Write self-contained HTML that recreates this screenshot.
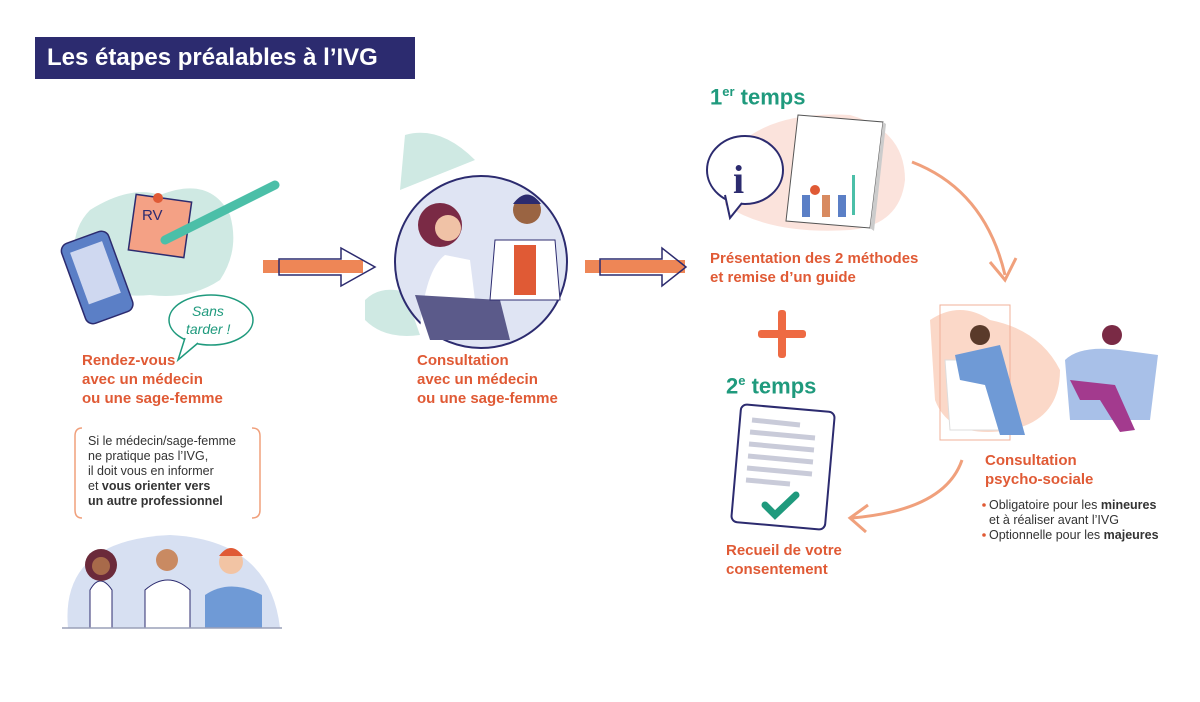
<!DOCTYPE html>
<html><head><meta charset="utf-8"><style>
body{margin:0;width:1200px;height:702px;background:#fff;position:relative;overflow:hidden;font-family:"Liberation Sans",sans-serif}
.a{position:absolute}
.or{color:#e05a35;font-weight:bold;font-size:15px;line-height:19px}
.te{color:#1f9a7d;font-weight:bold;font-size:22px}
.sm{font-size:12.5px;line-height:15px;color:#333}
</style></head><body>
<div class="a" style="left:35px;top:37px;width:380px;height:42px;background:#2c2b6f;color:#fff;font-weight:bold;font-size:24px;line-height:42px;text-indent:12px">Les étapes préalables à l’IVG</div>

<svg class="a" style="left:0;top:0" width="1200" height="702">
<!-- left illus -->
<path d="M90 210 Q130 185 160 195 Q210 175 230 215 Q240 250 220 280 Q190 300 150 295 Q95 300 75 265 Q70 230 90 210Z" fill="#cfe9e3"/>
<rect x="132" y="198" width="56" height="56" fill="#f4a185" stroke="#2c2b6f" stroke-width="1.5" transform="rotate(8 160 226)"/>
<circle cx="158" cy="198" r="5" fill="#e05a35"/>
<text x="142" y="220" font-size="15" fill="#2c2b6f" font-family="Liberation Sans">RV</text>
<path d="M165 240 L275 185" stroke="#4bbfa8" stroke-width="9" stroke-linecap="round"/>
<rect x="72" y="235" width="50" height="85" rx="8" fill="#5b7fc6" stroke="#2c2b6f" stroke-width="1.5" transform="rotate(-20 97 277)"/>
<rect x="80" y="245" width="34" height="55" fill="#cfd8f0" transform="rotate(-20 97 277)"/>
<ellipse cx="211" cy="320" rx="42" ry="25" fill="#fff" stroke="#1f9a7d" stroke-width="1.5"/>
<path d="M185 338 L178 360 L198 343" fill="#fff" stroke="#1f9a7d" stroke-width="1.5"/>
<text x="192" y="316" font-size="14" font-style="italic" fill="#1f9a7d" font-family="Liberation Sans">Sans</text>
<text x="186" y="334" font-size="14" font-style="italic" fill="#1f9a7d" font-family="Liberation Sans">tarder !</text>
<!-- bracket box -->
<path d="M82 428 Q75 428 75 436 L75 510 Q75 518 82 518" fill="none" stroke="#f0a07c" stroke-width="1.5"/>
<path d="M252 428 Q260 428 260 436 L260 510 Q260 518 252 518" fill="none" stroke="#f0a07c" stroke-width="1.5"/>
<!-- team -->
<path d="M68 628 Q60 540 170 535 Q270 540 280 628Z" fill="#d7e0f2"/>
<path d="M90 628 L90 590 Q100 572 112 590 L112 628Z" fill="#fff" stroke="#2c2b6f"/>
<circle cx="101" cy="565" r="16" fill="#6b2a3a"/><circle cx="101" cy="566" r="9" fill="#a86a4a"/>
<path d="M145 628 L145 590 Q168 570 190 590 L190 628Z" fill="#fff" stroke="#2c2b6f"/>
<circle cx="167" cy="560" r="11" fill="#c98a62"/>
<path d="M205 628 L205 595 Q230 578 262 595 L262 628Z" fill="#6f9ad6"/>
<circle cx="231" cy="562" r="12" fill="#f2c4a4"/><path d="M219 556 Q231 540 243 556Z" fill="#e05a35"/>
<line x1="62" y1="628" x2="282" y2="628" stroke="#9aa0b8" stroke-width="1.5"/>
<!-- arrows -->
<rect x="263" y="260" width="100" height="13" fill="#ee8656"/>
<path d="M279 259 L341 259 L341 248 L375 267 L341 286 L341 275 L279 275Z" fill="none" stroke="#2c2b6f" stroke-width="1.5"/>
<rect x="585" y="260" width="100" height="13" fill="#ee8656"/>
<path d="M600 259 L662 259 L662 248 L686 267 L662 286 L662 275 L600 275Z" fill="none" stroke="#2c2b6f" stroke-width="1.5"/>
<!-- consultation circle -->
<path d="M405 135 Q440 125 475 160 L400 190Z" fill="#cfe9e3"/>
<path d="M365 300 Q380 285 405 292 L420 335 Q385 340 365 320Z" fill="#cfe9e3"/>
<circle cx="481" cy="262" r="86" fill="#dfe4f3" stroke="#2c2b6f" stroke-width="2"/>
<path d="M420 330 Q425 270 445 255 L470 260 L480 340Z" fill="#fff"/>
<circle cx="440" cy="225" r="22" fill="#7a2a45"/><circle cx="448" cy="228" r="13" fill="#f0c2a6"/>
<path d="M415 295 L500 300 L510 340 L430 340Z" fill="#5b5a8a"/>
<path d="M495 240 L555 240 L560 300 L490 300Z" fill="#fff" stroke="#2c2b6f"/>
<rect x="514" y="245" width="22" height="50" fill="#e05a35"/>
<circle cx="527" cy="210" r="14" fill="#9a6442"/><path d="M513 204 Q527 185 541 204Z" fill="#2c2b6f"/>
<!-- 1er temps -->
<path d="M725 160 Q760 110 850 115 Q905 130 905 180 Q900 225 850 230 Q770 235 725 205Z" fill="#fbe3dc"/>
<ellipse cx="745" cy="170" rx="38" ry="34" fill="#fff" stroke="#2c2b6f" stroke-width="2"/>
<path d="M725 195 L730 218 L742 203" fill="#fff" stroke="#2c2b6f" stroke-width="2"/>
<text x="733" y="193" font-size="40" font-weight="bold" fill="#2c2b6f" font-family="Liberation Serif">i</text>
<polygon points="798,115 883,122 870,228 786,221" fill="#fff" stroke="#555" stroke-width="1"/>
<polygon points="870,228 883,122 886,124 874,231" fill="#ccc"/>
<circle cx="815" cy="190" r="5" fill="#e05a35"/><rect x="802" y="195" width="8" height="22" fill="#5b7fc6"/><rect x="822" y="195" width="8" height="22" fill="#d88a60"/><rect x="838" y="195" width="8" height="22" fill="#5b7fc6"/><rect x="852" y="175" width="3" height="40" fill="#4bbfa8"/>
<path d="M912 162 Q985 190 1005 275" fill="none" stroke="#f0a07c" stroke-width="3"/>
<path d="M990 262 L1005 280 L1016 258" fill="none" stroke="#f0a07c" stroke-width="3"/>
<rect x="758" y="330" width="48" height="8" rx="3" fill="#ee6a43"/><rect x="778" y="310" width="8" height="48" rx="3" fill="#ee6a43"/>
<!-- doc -->
<rect x="736" y="408" width="94" height="118" rx="6" fill="#fff" stroke="#2c2b6f" stroke-width="2" transform="rotate(5 783 467)"/>
<g stroke="#c9cbd9" stroke-width="5"><line x1="752" y1="420" x2="800" y2="425"/><line x1="750" y1="432" x2="815" y2="438"/><line x1="749" y1="444" x2="814" y2="450"/><line x1="748" y1="456" x2="813" y2="462"/><line x1="747" y1="468" x2="812" y2="474"/><line x1="746" y1="480" x2="790" y2="484"/></g>
<path d="M765 505 L775 515 L796 495" fill="none" stroke="#1f9a7d" stroke-width="7" stroke-linecap="round"/>
<!-- psycho -->
<path d="M930 320 Q960 300 990 320 Q1040 330 1060 370 Q1060 420 1010 430 Q950 440 935 400Z" fill="#fbd8c8"/>
<rect x="940" y="305" width="70" height="135" fill="none" stroke="#f0b09a"/>
<path d="M945 360 L1000 360 L1005 430 L950 430Z" fill="#fff" stroke="#ddd"/>
<path d="M955 355 L1000 345 L1025 435 L1000 435 L985 385 L960 380Z" fill="#6f9ad6"/>
<circle cx="980" cy="335" r="10" fill="#5a3a2a"/>
<path d="M1065 360 Q1080 345 1120 350 L1158 355 L1150 420 L1070 420Z" fill="#a8c0e8"/>
<path d="M1070 380 L1115 385 L1135 430 L1120 432 L1100 400 L1080 400Z" fill="#a33a8e"/>
<circle cx="1112" cy="335" r="10" fill="#7a2a45"/>
<path d="M962 460 Q945 510 852 518" fill="none" stroke="#f0a07c" stroke-width="3"/>
<path d="M868 505 L850 518 L866 532" fill="none" stroke="#f0a07c" stroke-width="3"/>
<circle cx="984" cy="505" r="1.8" fill="#e05a35"/><circle cx="984" cy="535" r="1.8" fill="#e05a35"/>
</svg>

<div class="a or" style="left:82px;top:351px">Rendez-vous<br>avec un médecin<br>ou une sage-femme</div>
<div class="a sm" style="left:88px;top:434px">Si le médecin/sage-femme<br>ne pratique pas l’IVG,<br>il doit vous en informer<br>et <b>vous orienter vers<br>un autre professionnel</b></div>
<div class="a or" style="left:417px;top:351px">Consultation<br>avec un médecin<br>ou une sage-femme</div>
<div class="a te" style="left:710px;top:84px">1<sup style="font-size:13px">er</sup> temps</div>
<div class="a or" style="left:710px;top:249px">Présentation des 2 méthodes<br>et remise d’un guide</div>
<div class="a te" style="left:726px;top:373px">2<sup style="font-size:13px">e</sup> temps</div>
<div class="a or" style="left:726px;top:541px">Recueil de votre<br>consentement</div>
<div class="a or" style="left:985px;top:451px">Consultation<br>psycho-sociale</div>
<div class="a sm" style="left:989px;top:498px">Obligatoire pour les <b>mineures</b><br>et à réaliser avant l’IVG<br>Optionnelle pour les <b>majeures</b></div>
</body></html>
